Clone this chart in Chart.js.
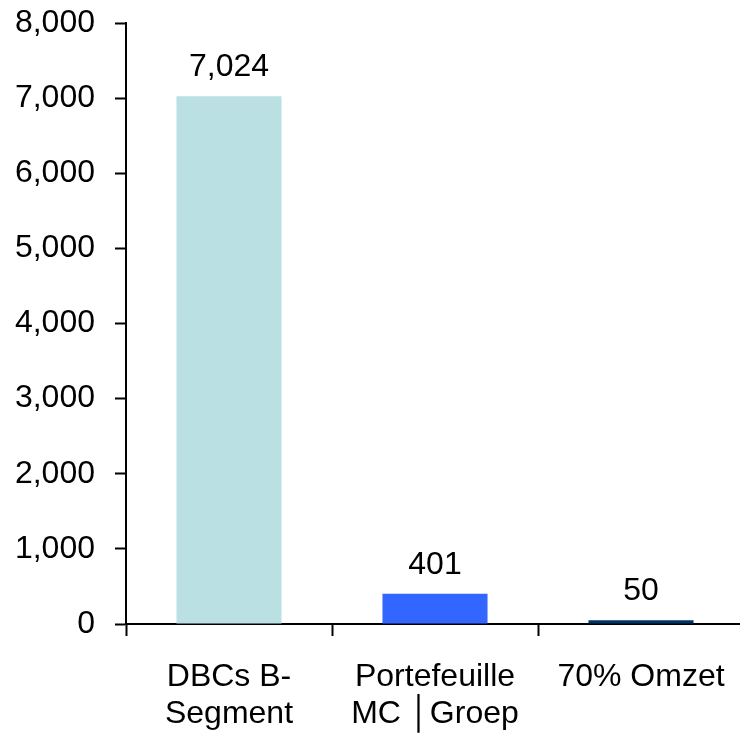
<!DOCTYPE html>
<html>
<head>
<meta charset="utf-8">
<script src="https://cdn.jsdelivr.net/npm/chart.js@4.4.1/dist/chart.umd.min.js"></script>
<style>
  html, body { margin: 0; padding: 0; background: #ffffff; }
  #wrap { width: 740px; height: 733px; overflow: hidden; position: relative; }
  canvas { display: block; }
</style>
</head>
<body>
<div id="wrap"><canvas id="chart" width="750" height="733"></canvas></div>
<script>
// Categories (multi-line labels) and values
const categories = [
  ['DBCs B-', 'Segment'],
  ['Portefeuille', 'MC \u2502Groep'],
  ['70% Omzet']
];
const values = [7024, 401, 50];
const barColors = ['#BBE0E3', '#3366FF', '#003366'];
const yTicks = [0, 1000, 2000, 3000, 4000, 5000, 6000, 7000, 8000];

const FONT_FAMILY = '"Liberation Sans", Arial, Helvetica, sans-serif';
const FONT_SIZE = 32;

const fmt = v => Number(v).toLocaleString('en-US');

// Value labels above each bar
const valueLabels = {
  id: 'valueLabels',
  afterDatasetsDraw(chart) {
    const ctx = chart.ctx;
    const meta = chart.getDatasetMeta(0);
    ctx.save();
    ctx.font = FONT_SIZE + 'px ' + FONT_FAMILY;
    ctx.fillStyle = '#000000';
    ctx.textAlign = 'center';
    ctx.textBaseline = 'alphabetic';
    meta.data.forEach((bar, i) => {
      ctx.fillText(fmt(chart.data.datasets[0].data[i]), bar.x, bar.y - 20);
    });
    ctx.restore();
  }
};

new Chart(document.getElementById('chart'), {
  type: 'bar',
  data: {
    labels: categories,
    datasets: [{
      data: values,
      backgroundColor: barColors,
      borderWidth: 0,
      barPercentage: 0.51,
      categoryPercentage: 1.0
    }]
  },
  options: {
    responsive: false,
    maintainAspectRatio: false,
    animation: false,
    layout: { padding: { top: 23, right: 6, left: 0, bottom: 0 } },
    plugins: {
      legend: { display: false },
      tooltip: { enabled: false }
    },
    scales: {
      x: {
        offset: true,
        grid: {
          offset: true,
          drawOnChartArea: false,
          drawTicks: true,
          tickLength: 12,
          tickWidth: 2,
          tickColor: '#000000'
        },
        border: { display: true, color: '#000000', width: 2 },
        ticks: {
          color: '#000000',
          font: { family: FONT_FAMILY, size: FONT_SIZE, lineHeight: 1.15 },
          padding: 23,
          maxRotation: 0,
          autoSkip: false
        },
        afterFit(scale) {
          scale.height = 109;
          scale.paddingLeft = 0;
          scale.paddingRight = 0;
        }
      },
      y: {
        min: 0,
        max: 8000,
        afterBuildTicks(scale) { scale.ticks = yTicks.map(v => ({ value: v })); },
        grid: {
          drawOnChartArea: false,
          drawTicks: true,
          tickLength: 11,
          tickWidth: 2,
          tickColor: '#000000'
        },
        border: { display: true, color: '#000000', width: 2 },
        ticks: {
          color: '#000000',
          font: { family: FONT_FAMILY, size: FONT_SIZE },
          padding: 20,
          callback: v => fmt(v)
        },
        afterFit(scale) {
          scale.width = 126;
          scale.paddingTop = 0;
          scale.paddingBottom = 0;
        }
      }
    }
  },
  plugins: [valueLabels]
});
</script>
</body>
</html>
